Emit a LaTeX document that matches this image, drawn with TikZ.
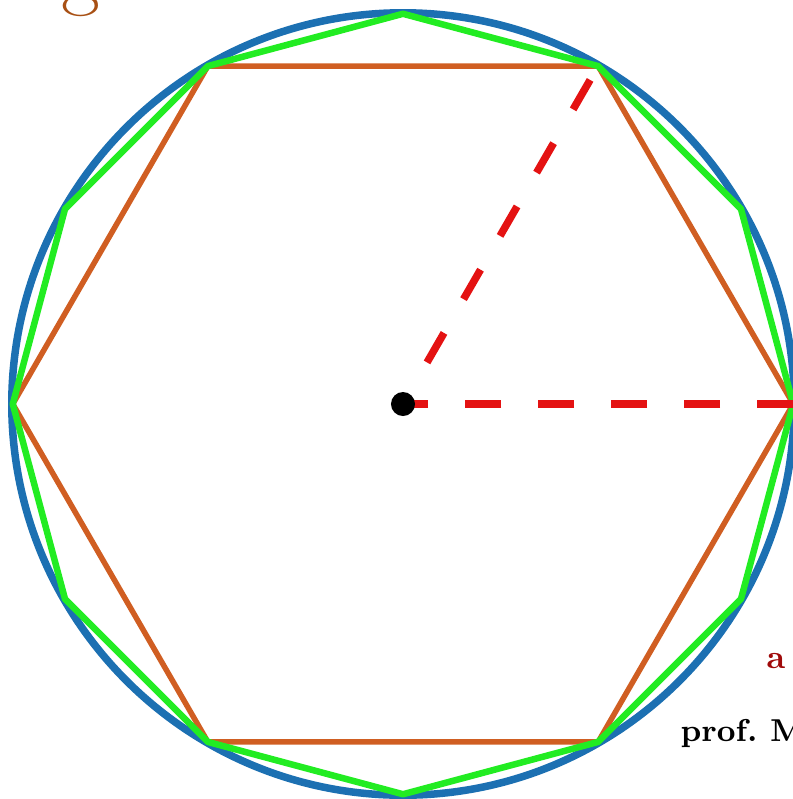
\documentclass[tikz,border=0pt]{standalone}
\usetikzlibrary{calc}
\definecolor{circblue}{RGB}{28,112,178}
\definecolor{dodgreen}{RGB}{34,236,34}
\definecolor{hexorange}{RGB}{208,94,34}
\definecolor{dashred}{RGB}{228,18,18}
\definecolor{titlebrown}{RGB}{168,80,20}
\definecolor{labelred}{RGB}{160,10,10}
\tikzset{
  circ/.style={draw=circblue, line width=0.075cm},
  dodec/.style={draw=dodgreen, line width=0.065cm, line join=round},
  hexa/.style={draw=hexorange, line width=0.055cm, line join=round},
  radius line/.style={draw=dashred, line width=0.075cm},
}
\begin{document}
\begin{tikzpicture}[x=0.01cm,y=-0.01cm]
\useasboundingbox (0,0) rectangle (793,799);
\clip (0,0) rectangle (793,799);
\coordinate (O) at (403,404);
% circle
\draw[circ] (O) circle[radius=3.91cm];
% hexagon
\draw[hexa] ($(O)+(0:3.9cm)$) \foreach \a in {60,120,...,300} { -- ($(O)+(\a:3.9cm)$) } -- cycle;
% dodecagon
\draw[dodec] ($(O)+(0:3.9cm)$) \foreach \a in {30,60,...,330} { -- ($(O)+(\a:3.9cm)$) } -- cycle;
% radii
\coordinate (V0) at ($(O)+(0:3.9cm)$);
\coordinate (V60) at ($(O)+(60:3.9cm)$);
\draw[radius line, dash pattern=on 0.36cm off 0.37cm] (V0) -- (O);
\draw[radius line, dash pattern=on 0.34cm off 0.39cm, dash phase=0.57cm] (V60) -- (O);
% centre
\fill[black] (O) circle[radius=0.12cm];
% texts
\node[anchor=base west, inner sep=0pt, text=titlebrown, font=\fontsize{24}{26}\selectfont] (g) at (61,-1) {g};
\node[anchor=base west, inner sep=0pt, text=labelred, font=\fontsize{9.5}{11}\selectfont\bfseries] (a) at (766,668) {a};
\node[anchor=base west, inner sep=0pt, text=black, font=\fontsize{9}{10}\selectfont\bfseries] (prof) at (680,741) {prof.\ M};
\end{tikzpicture}
\end{document}
